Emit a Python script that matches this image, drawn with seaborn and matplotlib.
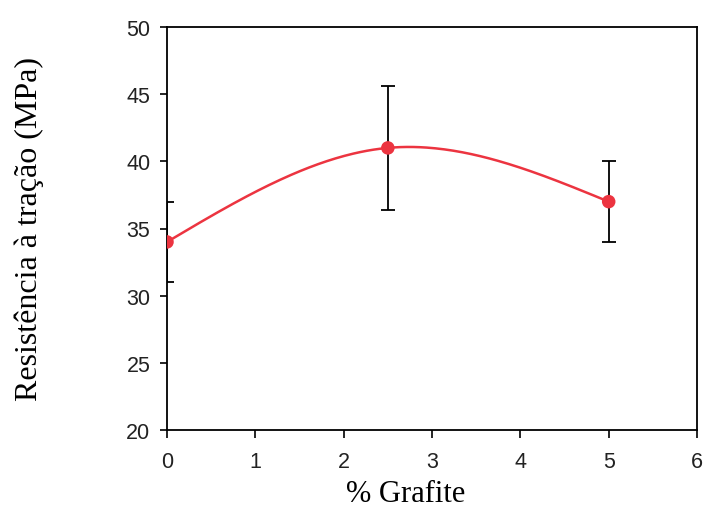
import numpy as np
import pandas as pd
import matplotlib
matplotlib.use("Agg")
import matplotlib.pyplot as plt
import seaborn as sns

# Tensile strength vs graphite content
grafite = [0.0, 2.5, 5.0]
resistencia = [34.0, 41.0, 37.0]
erro = [3.0, 4.6, 3.0]
x_ticks = [0, 1, 2, 3, 4, 5, 6]
y_ticks = [20, 25, 30, 35, 40, 45, 50]

RED = "#EC3440"


def natural_spline(x, y, n=200):
    """Natural cubic spline through the measured points, for a smooth trend line."""
    x = np.asarray(x, float)
    y = np.asarray(y, float)
    k = len(x)
    h = np.diff(x)
    A = np.zeros((k, k))
    b = np.zeros(k)
    A[0, 0] = A[-1, -1] = 1.0
    for i in range(1, k - 1):
        A[i, i - 1] = h[i - 1]
        A[i, i] = 2 * (h[i - 1] + h[i])
        A[i, i + 1] = h[i]
        b[i] = 6 * ((y[i + 1] - y[i]) / h[i] - (y[i] - y[i - 1]) / h[i - 1])
    M = np.linalg.solve(A, b)
    xs = np.linspace(x[0], x[-1], n)
    ys = np.empty_like(xs)
    for j, t in enumerate(xs):
        i = min(np.searchsorted(x, t, side="right") - 1, k - 2)
        a, c = x[i], x[i + 1]
        hi = c - a
        ys[j] = (M[i] * (c - t) ** 3 / (6 * hi) + M[i + 1] * (t - a) ** 3 / (6 * hi)
                 + (y[i] / hi - M[i] * hi / 6) * (c - t)
                 + (y[i + 1] / hi - M[i + 1] * hi / 6) * (t - a))
    return xs, ys


sns.set_theme(style="white")
plt.rcParams["font.family"] = ["Liberation Sans", "DejaVu Sans"]

fig = plt.figure(figsize=(7.07, 5.10), dpi=100)
ax = fig.add_axes([0.2362, 0.1549, 0.7497, 0.7902])

xs, ys = natural_spline(grafite, resistencia)
curve = pd.DataFrame({"x": xs, "y": ys})
pts = pd.DataFrame({"x": grafite, "y": resistencia})

sns.lineplot(data=curve, x="x", y="y", ax=ax, color=RED, lw=1.8, zorder=3)
ax.errorbar(grafite, resistencia, yerr=erro, fmt="none", ecolor="black",
            elinewidth=1.3, capsize=5, capthick=1.3, zorder=2)
sns.scatterplot(data=pts, x="x", y="y", ax=ax, color=RED, s=95,
                edgecolor="none", zorder=4)

ax.set_xlim(0, 6)
ax.set_ylim(20, 50)
ax.set_xticks(x_ticks)
ax.set_yticks(y_ticks)
ax.tick_params(axis="both", which="major", bottom=True, left=True,
               direction="out", width=1.2, colors="black")
ax.tick_params(axis="x", length=6, pad=9)
ax.tick_params(axis="y", length=5, pad=7)
for lab in ax.get_xticklabels() + ax.get_yticklabels():
    lab.set_fontsize(15.5)
    lab.set_color("#222222")
for s in ax.spines.values():
    s.set_color("black")
    s.set_linewidth(1.3)

serif = ["Liberation Serif", "DejaVu Serif"]
ax.set_xlabel("% Grafite", family=serif, fontsize=22, color="black")
ax.set_ylabel("Resistência à tração (MPa)", family=serif, fontsize=23, color="black")
ax.xaxis.set_label_coords(0.451, -0.122)
ax.yaxis.set_label_coords(-0.232, 0.5)

fig.savefig("out.png", dpi=100)
